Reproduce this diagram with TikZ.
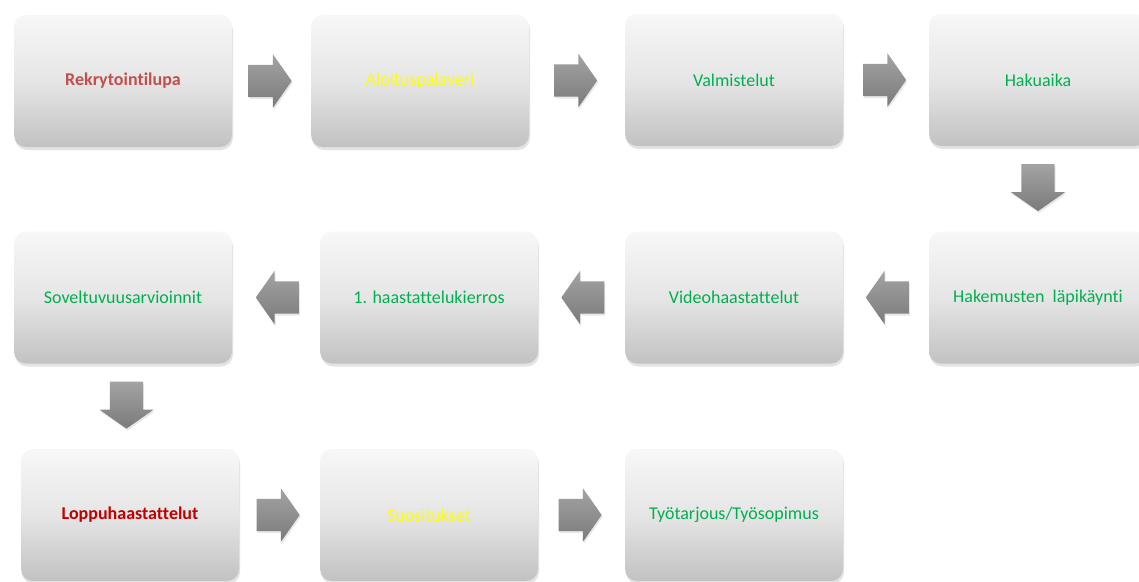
\documentclass[tikz,border=0pt]{standalone}
\usepackage{fontspec}
\setmainfont{Carlito}[Ligatures=NoCommon]
\usetikzlibrary{calc,positioning,shapes.arrows,shadows}
\definecolor{RekryRed}{RGB}{192,80,77}
\definecolor{LoppuRed}{RGB}{192,0,0}
\definecolor{StepGreen}{RGB}{0,176,80}
\definecolor{StepYellow}{RGB}{255,255,0}

\begin{document}
\begin{tikzpicture}[x=1pt,y=1pt,
    stepbox/.style={rounded corners=12pt,minimum width=218pt,minimum height=132pt,
      inner sep=4pt,top color=white!97!black,bottom color=white!76!black,
      middle color=white!90!black,
      drop shadow={shadow xshift=1pt,shadow yshift=-3pt,opacity=.22},
      font=\fontsize{18}{22}\selectfont},
    blockarrow/.style={single arrow,minimum width=53pt,
      single arrow head extend=10.5pt,single arrow tip angle=110,
      top color=white!64!black,bottom color=white!48!black,
      drop shadow={shadow xshift=1pt,shadow yshift=-2pt,opacity=.18}},
    harrow/.style={blockarrow,inner xsep=0pt,inner ysep=16pt,minimum height=43pt},
    varrow/.style={blockarrow,inner ysep=0pt,inner xsep=16.5pt,minimum height=47pt}]
  \path[use as bounding box,fill=white] (0,0) rectangle (1139,-581);
  % rivi 1
  \node[stepbox,text=RekryRed,font=\fontsize{18}{22}\selectfont\bfseries] (lupa) at (123,-81) {Rekrytointilupa};
  \node[stepbox,text=StepYellow] (palaveri) at (420,-81) {Aloituspalaveri};
  \node[stepbox,text=StepGreen] (valm) at (734,-80) {Valmistelut};
  \node[stepbox,text=StepGreen] (haku) at (1038,-80) {Hakuaika};
  % rivi 2
  \node[stepbox,text=StepGreen] (lapi) at (1038,-297.5) {Hakemusten~ läpikäynti};
  \node[stepbox,text=StepGreen] (video) at (734,-297.5) {Videohaastattelut};
  \node[stepbox,text=StepGreen] (kierros) at (429,-297.5) {1. haastattelukierros};
  \node[stepbox,text=StepGreen] (sovelt) at (123,-297.5) {Soveltuvuusarvioinnit};
  % rivi 3
  \node[stepbox,text=LoppuRed,font=\fontsize{18}{22}\selectfont\bfseries] (loppu) at (130,-515) {Loppuhaastattelut};
  \node[stepbox,text=StepYellow] (suos) at (429,-515) {Suositukset};
  \node[stepbox,text=StepGreen] (tarjous) at (734,-515) {Työtarjous/Työsopimus};
  % nuolet
  \foreach \a/\b/\r/\s in {lupa/palaveri/0/harrow,palaveri/valm/0/harrow,valm/haku/0/harrow,
      haku/lapi/270/varrow,lapi/video/180/harrow,video/kierros/180/harrow,
      kierros/sovelt/180/harrow,sovelt/loppu/270/varrow,loppu/suos/0/harrow,suos/tarjous/0/harrow}
    \node[\s,shape border rotate=\r,shift={(\r:-7pt)}] at ($(\a)!.5!(\b)$) {};
\end{tikzpicture}
\end{document}
